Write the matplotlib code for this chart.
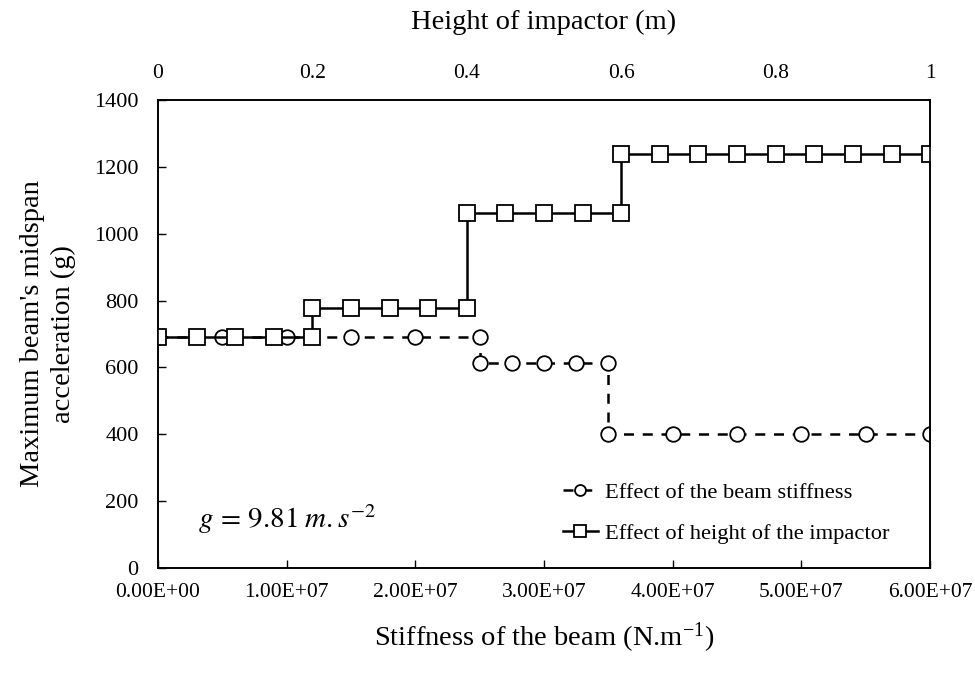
import numpy as np
import matplotlib
matplotlib.use('Agg')
import matplotlib.pyplot as plt

plt.rcParams['font.family'] = ['Liberation Serif', 'DejaVu Serif']
plt.rcParams['mathtext.fontset'] = 'stix'

# effect of the beam stiffness (bottom axis, N/m)
stiffness = [0, 5e6, 1e7, 1.5e7, 2e7, 2.5e7, 2.5e7, 2.75e7, 3e7, 3.25e7, 3.5e7,
             3.5e7, 4e7, 4.5e7, 5e7, 5.5e7, 6e7]
acc_stiffness = [690, 690, 690, 690, 690, 690, 613, 613, 613, 613, 613,
                 400, 400, 400, 400, 400, 400]

# effect of height of the impactor (top axis, m)
height = [0, 0.05, 0.1, 0.15, 0.2, 0.2, 0.25, 0.3, 0.35, 0.4,
          0.4, 0.45, 0.5, 0.55, 0.6, 0.6, 0.65, 0.7, 0.75, 0.8, 0.85, 0.9, 0.95, 1.0]
acc_height = [690, 690, 690, 690, 690, 778, 778, 778, 778, 778,
              1062, 1062, 1062, 1062, 1062, 1238, 1238, 1238, 1238, 1238, 1238, 1238, 1238, 1238]

x_ticks = [0, 1e7, 2e7, 3e7, 4e7, 5e7, 6e7]
top_ticks = [0, 0.2, 0.4, 0.6, 0.8, 1]
y_ticks = [0, 200, 400, 600, 800, 1000, 1200, 1400]

fig = plt.figure(figsize=(9.75, 6.74), dpi=100)
ax = fig.add_axes([0.162, 0.157, 0.792, 0.695])
ax2 = ax.twiny()

l1, = ax.plot(stiffness, acc_stiffness, color='black', lw=1.8, ls=(0, (4, 3.5)),
              marker='o', ms=10.5, mfc='white', mec='black', mew=1.3,
              label='Effect of the beam stiffness')
l2, = ax2.plot(height, acc_height, color='black', lw=1.8, ls='-',
               marker='s', ms=11, mfc='white', mec='black', mew=1.3,
               label='Effect of height of the impactor')

ax.set_xlim(0, 6e7)
ax.set_ylim(0, 1400)
ax2.set_xlim(0, 1)
ax.set_xticks(x_ticks)
ax.set_xticklabels([f'{v:.2E}' for v in x_ticks])
ax.set_yticks(y_ticks)
ax2.set_xticks(top_ticks)
ax2.set_xticklabels([f'{v:g}' for v in top_ticks])

ax.tick_params(axis='x', direction='in', length=6, width=1, labelsize=15.5, pad=11)
ax.tick_params(axis='y', direction='in', length=6, width=1, labelsize=16, pad=14,
               right=False)
ax2.tick_params(axis='x', length=0, labelsize=15.5, pad=12)

for a in (ax, ax2):
    for s in a.spines.values():
        s.set_linewidth(1.2)

ax.set_xlabel('Stiffness of the beam (N.m$^{\\mathregular{-1}}$)', fontsize=20.5, labelpad=13)
ax.set_ylabel("Maximum beam's midspan\nacceleration (g)", fontsize=20.5, labelpad=13,
              linespacing=1.3)
ax2.set_xlabel('Height of impactor (m)', fontsize=20.5, labelpad=25)

ax.text(0.052, 0.105, r'$g\,=\,9.81\;m.s^{-2}$', transform=ax.transAxes,
        fontsize=21, va='center', ha='left')

ax2.legend(handles=[l1, l2], loc='center left', bbox_to_anchor=(0.5246, 0.1186),
           frameon=False, fontsize=16.2, handlelength=1.55, handletextpad=0.3,
           labelspacing=0.9, markerscale=0.75, borderpad=0, borderaxespad=0)

fig.savefig('out.png', dpi=100)
